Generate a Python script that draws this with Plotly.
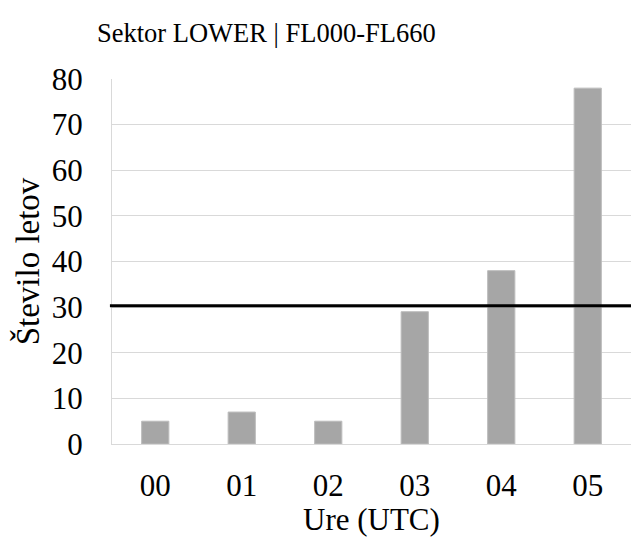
import plotly.graph_objects as go

# Hourly flight counts for sector LOWER (FL000-FL660)
hours = ["00", "01", "02", "03", "04", "05"]
flights = [5, 7, 5, 29, 38, 78]
capacity = 30.3

y_ticks = [0, 10, 20, 30, 40, 50, 60, 70, 80]

FONT = "Liberation Serif"

fig = go.Figure()
fig.add_trace(go.Bar(
    x=hours,
    y=flights,
    marker=dict(color="#a6a6a6", line=dict(color="#bdbdbd", width=1)),
    showlegend=False,
))

# capacity threshold line across the plot
fig.add_shape(
    type="line", xref="paper", yref="y",
    x0=-0.004, x1=1, y0=capacity, y1=capacity,
    line=dict(color="black", width=3),
)

# x-axis title placed below the hour labels
fig.add_annotation(
    text="Ure (UTC)", xref="paper", yref="paper",
    x=0.5, y=0.0, xanchor="center", yanchor="bottom",
    yshift=-(540 - 79 - 365) + 1,
    showarrow=False, font=dict(family=FONT, size=31, color="black"),
)

fig.update_layout(
    width=631, height=540,
    margin=dict(l=112, r=0, t=79, b=96),
    paper_bgcolor="white", plot_bgcolor="white",
    bargap=0.685,
    font=dict(family=FONT, color="black", size=31),
    title=dict(
        text="Sektor LOWER | FL000-FL660",
        x=0.422, xanchor="center", xref="container",
        y=0.94, yanchor="middle",
        font=dict(family=FONT, size=26.5, color="black"),
    ),
    xaxis=dict(
        showgrid=False,
        showline=True, linecolor="#d9d9d9", linewidth=1,
        ticks="", tickfont=dict(family=FONT, size=31),
        ticklabelstandoff=14,
    ),
    yaxis=dict(
        title=dict(text="Število letov", font=dict(family=FONT, size=33), standoff=2),
        range=[0, 80], tickvals=y_ticks,
        showgrid=True, gridcolor="#d9d9d9", gridwidth=1,
        showline=True, linecolor="#d9d9d9", linewidth=1, mirror=False,
        zeroline=False, ticks="", tickfont=dict(family=FONT, size=31),
        ticklabelstandoff=22,
    ),
)

fig.write_html("out.html")
